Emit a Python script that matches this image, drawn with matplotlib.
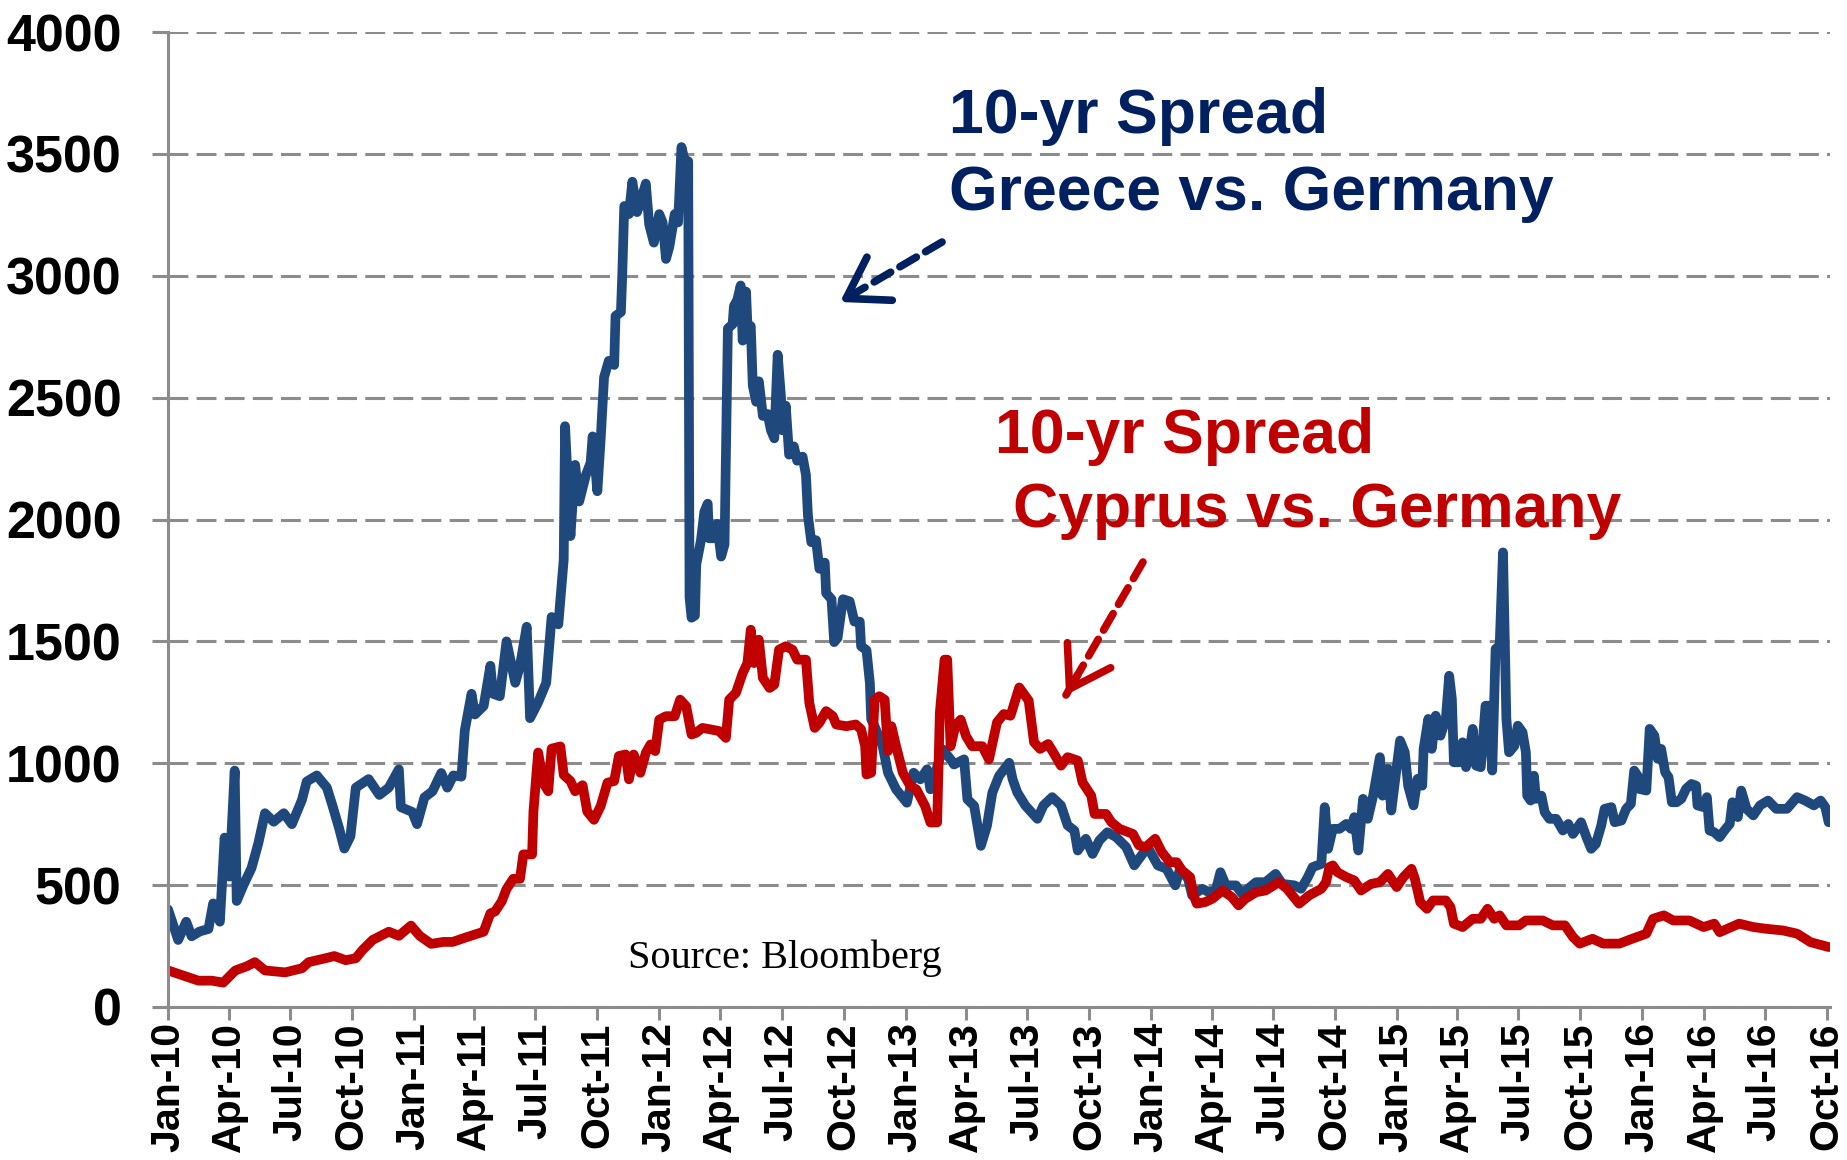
import matplotlib
matplotlib.use('Agg')
import matplotlib.pyplot as plt
import matplotlib.dates as mdates
import pandas as pd

plt.rcParams['font.family'] = ['Liberation Sans', 'DejaVu Sans']

# 10-yr spread vs Germany, bp
greece_dates = [
    '2010-01-01', '2010-01-16', '2010-01-28', '2010-02-05', '2010-02-17', '2010-03-02', '2010-03-09',
    '2010-03-19', '2010-03-26', '2010-04-02', '2010-04-10', '2010-04-13', '2010-04-23', '2010-05-05',
    '2010-05-15', '2010-05-25', '2010-06-07', '2010-06-22', '2010-07-04', '2010-07-19', '2010-07-26',
    '2010-08-10', '2010-08-25', '2010-09-03', '2010-09-12', '2010-09-20', '2010-09-29', '2010-10-07',
    '2010-10-26', '2010-11-11', '2010-11-25', '2010-12-10', '2010-12-13', '2010-12-30', '2011-01-06',
    '2011-01-17', '2011-01-29', '2011-02-11', '2011-02-20', '2011-03-01', '2011-03-13', '2011-03-18',
    '2011-03-28', '2011-04-02', '2011-04-15', '2011-04-25', '2011-04-29', '2011-05-09', '2011-05-19',
    '2011-06-01', '2011-06-08', '2011-06-18', '2011-06-23', '2011-07-05', '2011-07-17', '2011-07-25',
    '2011-08-04', '2011-08-12', '2011-08-14', '2011-08-22', '2011-08-29', '2011-09-04', '2011-09-14',
    '2011-09-21', '2011-09-24', '2011-10-01', '2011-10-06', '2011-10-11', '2011-10-18', '2011-10-26',
    '2011-10-28', '2011-11-05', '2011-11-07', '2011-11-10', '2011-11-17', '2011-11-22', '2011-11-29',
    '2011-12-04', '2011-12-12', '2011-12-17', '2011-12-24', '2012-01-01', '2012-01-06', '2012-01-11',
    '2012-01-16', '2012-01-24', '2012-01-29', '2012-02-03', '2012-02-08', '2012-02-13', '2012-02-15',
    '2012-02-18', '2012-02-23', '2012-02-25', '2012-03-03', '2012-03-08', '2012-03-13', '2012-03-15',
    '2012-03-22', '2012-03-27', '2012-04-02', '2012-04-07', '2012-04-12', '2012-04-19', '2012-04-21',
    '2012-04-26', '2012-05-01', '2012-05-04', '2012-05-09', '2012-05-11', '2012-05-16', '2012-05-19',
    '2012-05-24', '2012-05-28', '2012-06-03', '2012-06-10', '2012-06-15', '2012-06-20', '2012-06-25',
    '2012-06-30', '2012-07-02', '2012-07-07', '2012-07-12', '2012-07-19', '2012-07-24', '2012-08-01',
    '2012-08-06', '2012-08-09', '2012-08-14', '2012-08-21', '2012-08-26', '2012-09-03', '2012-09-05',
    '2012-09-13', '2012-09-17', '2012-09-22', '2012-09-30', '2012-10-10', '2012-10-17', '2012-10-25',
    '2012-10-27', '2012-11-04', '2012-11-09', '2012-11-11', '2012-11-16', '2012-11-28', '2012-12-06',
    '2012-12-18', '2013-01-03', '2013-01-13', '2013-01-23', '2013-02-02', '2013-02-07', '2013-02-25',
    '2013-03-09', '2013-03-14', '2013-03-29', '2013-04-03', '2013-04-13', '2013-04-23', '2013-05-02',
    '2013-05-10', '2013-05-20', '2013-06-04', '2013-06-09', '2013-06-16', '2013-06-28', '2013-07-16',
    '2013-07-25', '2013-08-07', '2013-08-20', '2013-08-30', '2013-09-09', '2013-09-14', '2013-09-26',
    '2013-10-06', '2013-10-16', '2013-10-28', '2013-11-10', '2013-11-25', '2013-12-07', '2013-12-14',
    '2013-12-27', '2014-01-11', '2014-01-24', '2014-02-06', '2014-02-13', '2014-02-25', '2014-03-03',
    '2014-03-18', '2014-03-28', '2014-04-07', '2014-04-14', '2014-04-22', '2014-05-07', '2014-05-16',
    '2014-06-06', '2014-06-20', '2014-07-05', '2014-07-15', '2014-08-02', '2014-08-12', '2014-08-22',
    '2014-08-29', '2014-09-11', '2014-09-16', '2014-09-21', '2014-09-28', '2014-10-08', '2014-10-18',
    '2014-10-25', '2014-10-30', '2014-11-05', '2014-11-12', '2014-11-19', '2014-11-27', '2014-12-07',
    '2014-12-11', '2014-12-19', '2014-12-24', '2015-01-06', '2015-01-13', '2015-01-18', '2015-01-26',
    '2015-02-01', '2015-02-08', '2015-02-10', '2015-02-17', '2015-02-22', '2015-02-28', '2015-03-07',
    '2015-03-15', '2015-03-20', '2015-03-24', '2015-03-27', '2015-04-04', '2015-04-09', '2015-04-14',
    '2015-04-19', '2015-04-24', '2015-04-29', '2015-05-06', '2015-05-13', '2015-05-18', '2015-05-23',
    '2015-05-28', '2015-06-03', '2015-06-08', '2015-06-13', '2015-06-17', '2015-06-25', '2015-06-30',
    '2015-07-07', '2015-07-12', '2015-07-14', '2015-07-19', '2015-07-24', '2015-07-27', '2015-08-04',
    '2015-08-09', '2015-08-16', '2015-08-26', '2015-09-05', '2015-09-13', '2015-09-20', '2015-10-02',
    '2015-10-10', '2015-10-17', '2015-10-24', '2015-11-01', '2015-11-06', '2015-11-16', '2015-11-21',
    '2015-12-01', '2015-12-08', '2015-12-15', '2015-12-20', '2015-12-25', '2015-12-27', '2016-01-07',
    '2016-01-12', '2016-01-19', '2016-01-24', '2016-01-29', '2016-02-04', '2016-02-09', '2016-02-14',
    '2016-02-21', '2016-02-28', '2016-03-06', '2016-03-14', '2016-03-21', '2016-03-23', '2016-04-01',
    '2016-04-06', '2016-04-10', '2016-04-17', '2016-04-25', '2016-05-02', '2016-05-10', '2016-05-14',
    '2016-05-22', '2016-05-27', '2016-06-04', '2016-06-14', '2016-06-24', '2016-07-06', '2016-07-18',
    '2016-08-03', '2016-08-18', '2016-08-30', '2016-09-12', '2016-09-22', '2016-09-29', '2016-10-04',
]
greece_vals = [
    400, 275, 350, 290, 310, 320, 425,
    350, 695, 535, 970, 435, 500, 570,
    670, 795, 760, 795, 750, 850, 925,
    950, 900, 820, 735, 650, 700, 900,
    935, 870, 900, 975, 820, 800, 750,
    860, 885, 960, 900, 950, 945, 1135,
    1285, 1200, 1235, 1400, 1285, 1275, 1500,
    1330, 1400, 1560, 1185, 1250, 1330, 1600,
    1570, 1835, 2383, 1932, 2224, 2074, 2183,
    2233, 2341, 2116, 2333, 2584, 2651, 2634,
    2835, 2851, 3002, 3286, 3253, 3386, 3261,
    3303, 3378, 3211, 3136, 3253, 3219, 3069,
    3119, 3253, 3219, 3528, 3470, 3470, 1681,
    1597, 1606, 1815, 1915, 2032, 2065, 1923,
    1923, 1982, 1848, 1898, 2784, 2801, 2876,
    2901, 2960, 2734, 2935, 2801, 2793, 2550,
    2483, 2567, 2425, 2433, 2366, 2333, 2676,
    2500, 2366, 2467, 2266, 2300, 2241, 2258,
    2183, 2015, 1907, 1915, 1798, 1823, 1698,
    1673, 1497, 1514, 1673, 1664, 1581, 1581,
    1480, 1464, 1330, 1180, 1152, 1070, 961,
    893, 838, 961, 934, 975, 893, 1057,
    1016, 995, 1016, 852, 825, 661, 743,
    879, 948, 1002, 936, 881, 827, 772,
    827, 861, 827, 745, 724, 642, 690,
    628, 683, 717, 697, 656, 581, 608,
    656, 581, 567, 499, 567, 526, 458,
    485, 471, 478, 553, 499, 499, 465,
    512, 512, 546, 505, 499, 485, 533,
    574, 587, 820, 649, 731, 731, 751,
    731, 779, 642, 854, 772, 867, 1025,
    867, 977, 806, 1093, 1045, 908, 827,
    936, 908, 1059, 1182, 1059, 1195, 1113,
    1182, 1359, 1264, 1004, 1004, 1086, 984,
    1045, 1141, 990, 984, 1236, 1236, 970,
    1469, 1482, 1865, 1182, 1045, 1072, 1154,
    1127, 1045, 867, 847, 949, 854, 867,
    799, 772, 772, 724, 751, 710, 758,
    697, 649, 669, 745, 813, 820, 758,
    765, 813, 833, 970, 949, 895, 888,
    1141, 1113, 1018, 1059, 963, 943, 840,
    840, 854, 895, 915, 908, 827, 820,
    861, 724, 717, 697, 724, 751, 840,
    779, 888, 813, 786, 827, 847, 813,
    813, 861, 847, 827, 847, 820, 758,
]

cyprus_dates = [
    '2010-01-01', '2010-01-28', '2010-02-15', '2010-03-07', '2010-03-24', '2010-04-11', '2010-04-28',
    '2010-05-10', '2010-05-25', '2010-06-24', '2010-07-19', '2010-07-29', '2010-08-23', '2010-09-05',
    '2010-09-22', '2010-10-07', '2010-10-17', '2010-11-01', '2010-11-25', '2010-12-10', '2010-12-28',
    '2011-01-10', '2011-01-27', '2011-02-14', '2011-02-28', '2011-03-18', '2011-04-15', '2011-04-25',
    '2011-05-02', '2011-05-12', '2011-05-19', '2011-05-29', '2011-06-08', '2011-06-13', '2011-06-26',
    '2011-06-28', '2011-07-05', '2011-07-13', '2011-07-20', '2011-07-25', '2011-08-07', '2011-08-12',
    '2011-08-22', '2011-08-29', '2011-09-09', '2011-09-16', '2011-09-26', '2011-10-06', '2011-10-16',
    '2011-10-26', '2011-11-02', '2011-11-12', '2011-11-17', '2011-11-24', '2011-12-04', '2011-12-12',
    '2011-12-19', '2011-12-26', '2012-01-01', '2012-01-11', '2012-01-24', '2012-02-01', '2012-02-10',
    '2012-02-18', '2012-02-25', '2012-03-05', '2012-03-17', '2012-03-30', '2012-04-09', '2012-04-14',
    '2012-04-24', '2012-05-04', '2012-05-11', '2012-05-16', '2012-05-21', '2012-05-28', '2012-06-03',
    '2012-06-13', '2012-06-20', '2012-06-27', '2012-07-07', '2012-07-17', '2012-07-24', '2012-08-06',
    '2012-08-11', '2012-08-19', '2012-08-26', '2012-09-05', '2012-09-15', '2012-09-20', '2012-10-05',
    '2012-10-19', '2012-10-27', '2012-11-02', '2012-11-04', '2012-11-11', '2012-11-16', '2012-11-23',
    '2012-12-01', '2012-12-06', '2012-12-11', '2012-12-18', '2012-12-28', '2013-01-08', '2013-01-17',
    '2013-01-30', '2013-02-07', '2013-02-17', '2013-02-21', '2013-02-28', '2013-03-04', '2013-03-09',
    '2013-03-16', '2013-03-24', '2013-04-01', '2013-04-10', '2013-04-25', '2013-05-05', '2013-05-17',
    '2013-05-27', '2013-06-06', '2013-06-19', '2013-07-03', '2013-07-11', '2013-07-20', '2013-08-01',
    '2013-08-10', '2013-08-20', '2013-08-30', '2013-09-14', '2013-09-21', '2013-10-04', '2013-10-09',
    '2013-10-26', '2013-11-03', '2013-11-15', '2013-12-05', '2013-12-14', '2013-12-24', '2014-01-07',
    '2014-01-17', '2014-01-29', '2014-02-08', '2014-02-16', '2014-02-28', '2014-03-05', '2014-03-10',
    '2014-03-22', '2014-04-02', '2014-04-17', '2014-05-01', '2014-05-11', '2014-05-21', '2014-06-06',
    '2014-06-20', '2014-07-10', '2014-07-22', '2014-08-09', '2014-08-24', '2014-09-11', '2014-09-18',
    '2014-09-23', '2014-09-28', '2014-10-05', '2014-10-18', '2014-10-30', '2014-11-09', '2014-11-24',
    '2014-12-07', '2014-12-19', '2015-01-01', '2015-01-11', '2015-01-23', '2015-01-28', '2015-02-05',
    '2015-02-15', '2015-02-24', '2015-03-15', '2015-03-22', '2015-03-27', '2015-04-09', '2015-04-24',
    '2015-05-06', '2015-05-16', '2015-05-26', '2015-06-03', '2015-06-13', '2015-07-02', '2015-07-12',
    '2015-08-06', '2015-08-21', '2015-09-08', '2015-09-20', '2015-09-30', '2015-10-19', '2015-11-04',
    '2015-11-28', '2015-12-17', '2016-01-07', '2016-01-17', '2016-02-02', '2016-02-16', '2016-03-11',
    '2016-04-01', '2016-04-17', '2016-04-25', '2016-05-24', '2016-06-14', '2016-07-03', '2016-07-28',
    '2016-08-18', '2016-09-07', '2016-10-04',
]
cyprus_vals = [
    150, 125, 108, 108, 100, 150, 167,
    184, 150, 142, 159, 184, 200, 209,
    192, 200, 234, 275, 309, 292, 334,
    292, 259, 267, 267, 284, 309, 384,
    392, 434, 484, 526, 526, 626, 626,
    802, 1044, 918, 885, 1060, 1069, 952,
    927, 885, 910, 802, 768, 825, 920,
    927, 1030, 1036, 934, 1036, 961, 1043,
    1077, 1050, 1179, 1193, 1193, 1261, 1234,
    1118, 1125, 1145, 1139, 1132, 1104, 1261,
    1289, 1370, 1411, 1548, 1411, 1507, 1350,
    1309, 1323, 1466, 1480, 1466, 1425, 1425,
    1248, 1145, 1166, 1214, 1193, 1159, 1152,
    1159, 1139, 1070, 954, 961, 1261, 1275,
    1261, 1050, 1152, 1070, 961, 907, 893,
    825, 757, 757, 1207, 1425, 1425, 1070,
    1152, 1179, 1111, 1070, 1070, 1016, 1168,
    1202, 1195, 1311, 1257, 1086, 1059, 1079,
    1038, 990, 1025, 1011, 922, 867, 792,
    792, 758, 731, 710, 663, 656, 690,
    635, 594, 594, 560, 533, 458, 424,
    430, 444, 478, 451, 417, 444, 471,
    478, 512, 485, 424, 458, 485, 512,
    574, 581, 553, 533, 519, 478, 505,
    512, 546, 492, 533, 567, 526, 430,
    403, 437, 437, 410, 342, 328, 362,
    362, 403, 362, 376, 335, 335, 355,
    355, 335, 335, 287, 260, 280, 260,
    260, 280, 301, 362, 376, 355, 355,
    328, 342, 307, 342, 328, 321, 314,
    301, 266, 246,
]

y_ticks = [0, 500, 1000, 1500, 2000, 2500, 3000, 3500, 4000]

greece = pd.Series(greece_vals, index=pd.to_datetime(greece_dates))
cyprus = pd.Series(cyprus_vals, index=pd.to_datetime(cyprus_dates))

blue = '#1F497D'
red = '#C00000'
navy = '#002060'
grey = '#8C8C8C'

fig = plt.figure(figsize=(18.47, 11.60), dpi=100)
ax = fig.add_axes([0.0910, 0.1319, 0.8998, 0.8405])

ax.plot(greece.index, greece.values, color=blue, lw=7, solid_joinstyle='round', solid_capstyle='round')
ax.plot(cyprus.index, cyprus.values, color=red, lw=7, solid_joinstyle='round', solid_capstyle='round')

ax.set_ylim(0, 4000)
ax.set_xlim(pd.Timestamp('2010-01-01'), pd.Timestamp('2016-10-06'))
ax.set_yticks(y_ticks)
ax.xaxis.set_major_locator(mdates.MonthLocator(bymonth=[1, 4, 7, 10]))
ax.xaxis.set_major_formatter(mdates.DateFormatter('%b-%y'))

# dashed horizontal grid, no frame except left/bottom axis lines
ax.yaxis.grid(True, color=grey, lw=2.2, linestyle=(0, (6.5, 2.7)))
ax.set_axisbelow(True)
for s in ['top', 'right']:
    ax.spines[s].set_visible(False)
for s in ['left', 'bottom']:
    ax.spines[s].set_color(grey)
    ax.spines[s].set_linewidth(2.2)

ax.tick_params(axis='y', length=11.5, width=2.2, color=grey, pad=22, labelsize=37.5)
ax.tick_params(axis='x', length=9, width=2.2, color=grey, pad=2, labelsize=29.5, rotation=90)
for lab in ax.get_yticklabels() + ax.get_xticklabels():
    lab.set_fontweight('bold')

# annotations
ax.text(0.4699, 0.8964, '10-yr Spread', transform=ax.transAxes, color=navy,
        fontsize=45, fontweight='bold', va='baseline', ha='left')
ax.text(0.4699, 0.8174, 'Greece vs. Germany', transform=ax.transAxes, color=navy,
        fontsize=45, fontweight='bold', va='baseline', ha='left')
ax.text(0.4976, 0.5682, '10-yr Spread', transform=ax.transAxes, color=red,
        fontsize=45, fontweight='bold', va='baseline', ha='left')
ax.text(0.5084, 0.4923, 'Cyprus vs. Germany', transform=ax.transAxes, color=red,
        fontsize=45, fontweight='bold', va='baseline', ha='left')
ax.text(0.2768, 0.040, 'Source: Bloomberg', transform=ax.transAxes, color='black',
        fontsize=29, family='Liberation Serif', va='baseline', ha='left')


def dashed_arrow(tail, head, color):
    # dashed shaft plus a solid open head
    ax.annotate('', xy=head, xytext=tail, xycoords='axes fraction', textcoords='axes fraction',
                arrowprops=dict(arrowstyle='-', color=color, lw=5.5, linestyle=(0, (2.5, 1.4)),
                                shrinkA=0, shrinkB=0))
    back = (head[0] + (tail[0] - head[0]) * 0.15, head[1] + (tail[1] - head[1]) * 0.15)
    ax.annotate('', xy=head, xytext=back, xycoords='axes fraction', textcoords='axes fraction',
                arrowprops=dict(arrowstyle='->,head_length=1.4,head_width=0.9', color=color, lw=5.5,
                                shrinkA=0, shrinkB=0, mutation_scale=20))


dashed_arrow((0.4657, 0.7846), (0.4043, 0.7231), navy)
dashed_arrow((0.5866, 0.4564), (0.5403, 0.3200), red)

fig.savefig('out.png', dpi=100)
